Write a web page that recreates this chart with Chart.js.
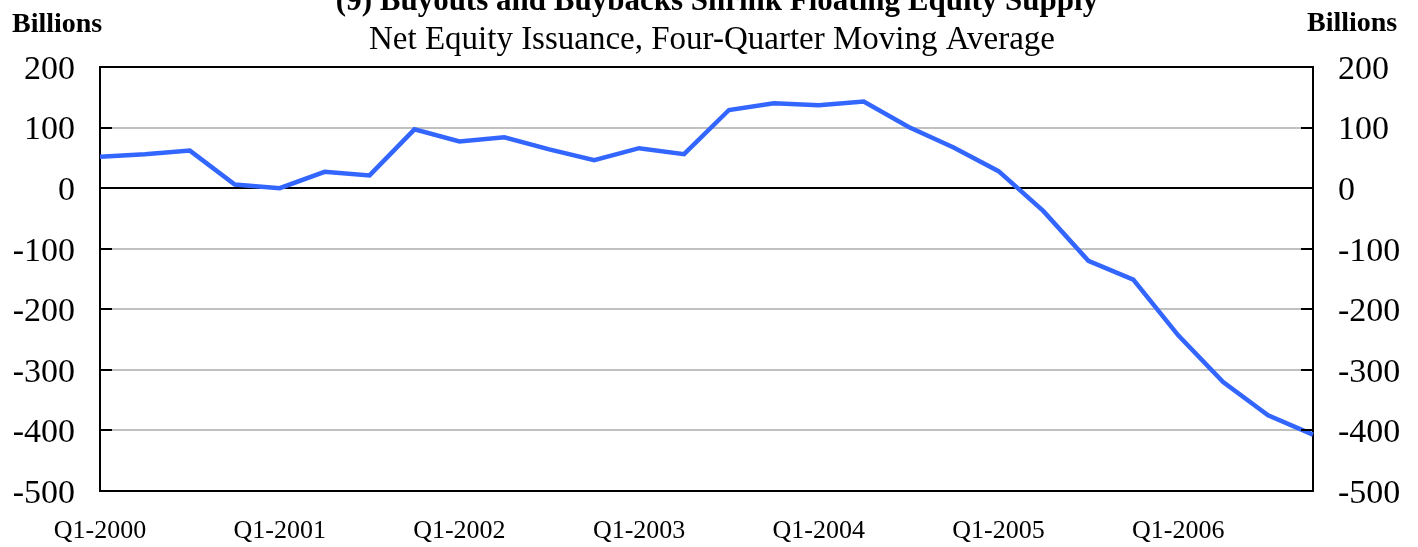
<!DOCTYPE html>
<html>
<head>
<meta charset="utf-8">
<script src="https://cdn.jsdelivr.net/npm/chart.js@4/dist/chart.umd.min.js"></script>
<style>
  html, body { margin: 0; padding: 0; background: #fff; }
  #wrap { width: 1418px; height: 547px; position: relative; }
</style>
</head>
<body>
<div id="wrap"><canvas id="c" width="1418" height="547"></canvas></div>
<script>
const quarters = [
  "Q1-2000","Q2-2000","Q3-2000","Q4-2000",
  "Q1-2001","Q2-2001","Q3-2001","Q4-2001",
  "Q1-2002","Q2-2002","Q3-2002","Q4-2002",
  "Q1-2003","Q2-2003","Q3-2003","Q4-2003",
  "Q1-2004","Q2-2004","Q3-2004","Q4-2004",
  "Q1-2005","Q2-2005","Q3-2005","Q4-2005",
  "Q1-2006","Q2-2006","Q3-2006","Q4-2006"
];
const netEquityIssuance = [
  52, 56, 62, 6,
  0, 27, 21, 97,
  77, 84, 64, 46,
  66, 56, 129, 140,
  137, 143, 101, 67,
  28, -38, -120, -151,
  -243, -320, -375, -407
];
const yTicks = [200, 100, 0, -100, -200, -300, -400, -500];
const titleText = "(9) Buyouts and Buybacks Shrink Floating Equity Supply";
const subtitleText = "Net Equity Issuance, Four-Quarter Moving Average";
const unitLabel = "Billions";

const SERIF = "'Liberation Serif', 'Times New Roman', serif";

const headerPlugin = {
  id: 'header',
  afterDraw(chart) {
    const ctx = chart.ctx;
    ctx.save();
    ctx.fillStyle = '#000';
    ctx.textBaseline = 'alphabetic';
    ctx.textAlign = 'center';
    ctx.font = "bold 31px " + SERIF;
    ctx.fillText(titleText, 717, 10);
    ctx.font = "33px " + SERIF;
    ctx.fillText(subtitleText, 712, 49);
    ctx.font = "bold 28px " + SERIF;
    ctx.textAlign = 'left';
    ctx.fillText(unitLabel, 12, 32);
    ctx.fillText(unitLabel, 1307, 31);
    ctx.restore();
  }
};

const innerTicksPlugin = {
  id: 'innerTicks',
  afterDatasetsDraw(chart) {
    const ctx = chart.ctx;
    const y = chart.scales.y;
    const a = chart.chartArea;
    ctx.save();
    ctx.strokeStyle = '#000';
    ctx.lineWidth = 2;
    y.ticks.forEach(t => {
      const py = Math.round(y.getPixelForValue(t.value));
      ctx.beginPath();
      ctx.moveTo(a.left, py); ctx.lineTo(a.left + 12, py);
      ctx.moveTo(a.right - 12, py); ctx.lineTo(a.right, py);
      ctx.stroke();
    });
    ctx.restore();
  }
};

new Chart(document.getElementById('c'), {
  type: 'line',
  data: {
    labels: quarters,
    datasets: [{
      data: netEquityIssuance,
      borderColor: '#3366ff',
      borderWidth: 4.5,
      pointRadius: 0,
      tension: 0,
      fill: false
    }]
  },
  options: {
    responsive: false,
    animation: false,
    devicePixelRatio: 1,
    layout: { padding: { top: 67, left: 0, right: 0, bottom: 0 } },
    plugins: {
      legend: { display: false },
      title: { display: false },
      tooltip: { enabled: false }
    },
    scales: {
      x: {
        type: 'category',
        offset: false,
        grid: { display: false, drawTicks: false },
        border: { display: true, color: '#000', width: 2 },
        ticks: {
          autoSkip: false,
          maxRotation: 0,
          minRotation: 0,
          padding: 25,
          color: '#000',
          font: { family: SERIF, size: 26 },
          callback: function(v, i) {
            const l = quarters[i];
            return l.startsWith('Q1') ? l : '';
          }
        },
        afterFit(s) { s.height = 56; }
      },
      y: {
        position: 'left',
        min: -500,
        max: 200,
        afterBuildTicks(s) { s.ticks = yTicks.map(v => ({ value: v })); },
        grid: {
          drawTicks: false,
          color: ctx => (ctx.tick && (ctx.tick.value === 0 || ctx.tick.value === 200 || ctx.tick.value === -500)) ? '#000' : '#c0c0c0',
          lineWidth: 2
        },
        border: { display: true, color: '#000', width: 2 },
        ticks: {
          padding: 25,
          labelOffset: 3,
          color: '#000',
          font: { family: SERIF, size: 34 }
        },
        afterFit(s) { s.width = 100; }
      },
      y2: {
        position: 'right',
        min: -500,
        max: 200,
        afterBuildTicks(s) { s.ticks = yTicks.map(v => ({ value: v })); },
        grid: { display: false, drawTicks: false },
        border: { display: true, color: '#000', width: 2 },
        ticks: {
          padding: 25,
          labelOffset: 3,
          color: '#000',
          font: { family: SERIF, size: 34 }
        },
        afterFit(s) { s.width = 105; }
      }
    }
  },
  plugins: [headerPlugin, innerTicksPlugin]
});
</script>
</body>
</html>
